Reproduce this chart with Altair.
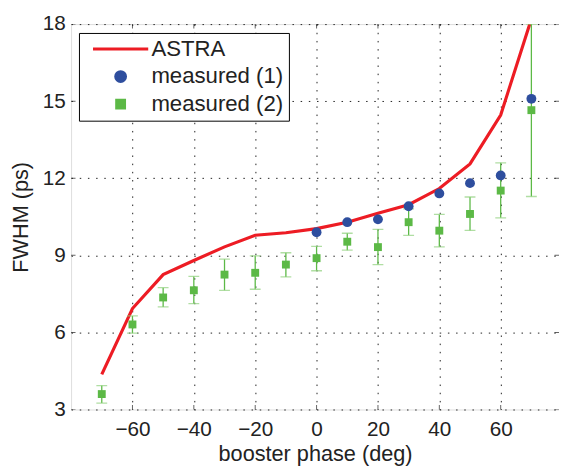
import altair as alt
import pandas as pd

# ---- data ----
series = ["ASTRA", "measured (1)", "measured (2)"]
colors = ["#ed1c24", "#2e4e9e", "#5cb946"]

phase_astra = [-70, -60, -50, -40, -30, -20, -10, 0, 10, 20, 30, 40, 50, 60, 70]
fwhm_astra = [4.37, 6.93, 8.25, 8.80, 9.33, 9.78, 9.88, 10.04, 10.29, 10.64, 10.97, 11.60, 12.56, 14.46, 18.2]

phase_m1 = [0, 10, 20, 30, 40, 50, 60, 70]
fwhm_m1 = [9.90, 10.29, 10.40, 10.91, 11.41, 11.81, 12.11, 15.09]

phase_m2 = [-70, -60, -50, -40, -30, -20, -10, 0, 10, 20, 30, 40, 50, 60, 70]
fwhm_m2 = [3.60, 6.31, 7.36, 7.64, 8.25, 8.32, 8.64, 8.89, 9.53, 9.32, 10.29, 9.96, 10.61, 11.52, 14.65]
err_lo = [3.25, 5.97, 6.99, 7.12, 7.64, 7.68, 8.16, 8.40, 9.20, 8.64, 9.78, 9.33, 9.97, 10.46, 11.29]
err_hi = [3.93, 6.64, 7.74, 8.18, 8.85, 8.98, 9.10, 9.35, 9.86, 10.01, 10.81, 10.59, 11.27, 12.60, 18.0]

x_ticks = [-60, -40, -20, 0, 20, 40, 60]
y_ticks = [3, 6, 9, 12, 15, 18]

# ---- tables ----
astra = pd.DataFrame({"phase": phase_astra, "fwhm": fwhm_astra, "series": "ASTRA"})
pts = pd.concat([
    pd.DataFrame({"phase": phase_m1, "fwhm": fwhm_m1, "series": "measured (1)"}),
    pd.DataFrame({"phase": phase_m2, "fwhm": fwhm_m2, "series": "measured (2)"}),
])
err = pd.DataFrame({"phase": phase_m2, "lo": err_lo, "hi": err_hi})
xt = pd.DataFrame({"v": x_ticks})
yt = pd.DataFrame({"v": y_ticks})

FONT = "Liberation Sans"
xscale = alt.Scale(domain=[-80, 79], nice=False, zero=False)
yscale = alt.Scale(domain=[3, 18], nice=False, zero=False)

xaxis = alt.Axis(values=x_ticks, title="booster phase (deg)", grid=True,
                 gridDash=[1.5, 6.8], gridColor="#222222", gridWidth=1,
                 domain=False, ticks=False, labelPadding=9, labelFontSize=21,
                 titleFontSize=22, titlePadding=5, labelFont=FONT, titleFont=FONT,
                 titleFontWeight="normal", labelColor="#222222", titleColor="#222222")
yaxis = alt.Axis(values=y_ticks, title="FWHM (ps)", grid=True,
                 gridDash=[1.5, 6.8], gridColor="#222222", gridWidth=1,
                 domain=False, ticks=False, labelPadding=6, labelFontSize=21,
                 titleFontSize=22, titlePadding=10, labelFont=FONT, titleFont=FONT,
                 titleFontWeight="normal", labelColor="#222222", titleColor="#222222")

color_scale = alt.Scale(domain=series, range=colors)
shape_scale = alt.Scale(domain=series,
                        range=["M-5.6,0H5.6", "circle", "M-0.8,-0.8H0.8V0.8H-0.8Z"])
legend = alt.Legend(title=None, orient="none", legendX=8, legendY=9,
                    fillColor="white", strokeColor="black", padding=5,
                    labelFont=FONT, labelFontSize=22.5, labelColor="#222222",
                    symbolSize=100, symbolOffset=26, labelOffset=20, rowPadding=5,
                    symbolStrokeWidth=3)

base_x = alt.X("phase:Q", scale=xscale, axis=xaxis)
base_y = alt.Y("fwhm:Q", scale=yscale, axis=yaxis)

line = alt.Chart(astra).mark_line(strokeWidth=3.2, clip=True).encode(
    x=base_x, y=base_y,
    color=alt.Color("series:N", scale=color_scale, legend=legend),
)

err_rule = alt.Chart(err).mark_rule(color="#5cb946", strokeWidth=1.3, clip=True).encode(
    x=alt.X("phase:Q", scale=xscale), y=alt.Y("lo:Q", scale=yscale), y2="hi:Q")
cap_lo = alt.Chart(err).mark_tick(orient="horizontal", size=11, thickness=1.3,
                                  color="#8fd07c", clip=True).encode(
    x=alt.X("phase:Q", scale=xscale), y=alt.Y("lo:Q", scale=yscale))
cap_hi = alt.Chart(err).mark_tick(orient="horizontal", size=11, thickness=1.3,
                                  color="#8fd07c", clip=True).encode(
    x=alt.X("phase:Q", scale=xscale), y=alt.Y("hi:Q", scale=yscale))

points = alt.Chart(pts).mark_point(filled=True, size=100, opacity=1).encode(
    x=base_x, y=base_y,
    color=alt.Color("series:N", scale=color_scale, legend=legend),
    shape=alt.Shape("series:N", scale=shape_scale, legend=legend),
)

# inward box ticks (MATLAB style)
tick_style = dict(size=9, thickness=1, color="#222222", clip=True)
t_bottom = alt.Chart(xt).mark_tick(orient="vertical", **tick_style).encode(
    x=alt.X("v:Q", scale=xscale), y=alt.datum(3))
t_top = alt.Chart(xt).mark_tick(orient="vertical", **tick_style).encode(
    x=alt.X("v:Q", scale=xscale), y=alt.datum(18))
t_left = alt.Chart(yt).mark_tick(orient="horizontal", **tick_style).encode(
    y=alt.Y("v:Q", scale=yscale), x=alt.datum(-80))
t_right = alt.Chart(yt).mark_tick(orient="horizontal", **tick_style).encode(
    y=alt.Y("v:Q", scale=yscale), x=alt.datum(79))

chart = alt.layer(
    t_bottom, t_top, t_left, t_right, line, err_rule, cap_lo, cap_hi, points
).properties(
    width=495, height=391,
    padding={"left": 64, "top": 13, "right": 0, "bottom": 54},
    autosize=alt.AutoSizeParams(type="none"),
).configure_view(
    stroke="black", strokeWidth=1.5, fill="white"
).configure(background="white")

chart.save("out.html", embed_options={"renderer": "svg", "actions": False})
